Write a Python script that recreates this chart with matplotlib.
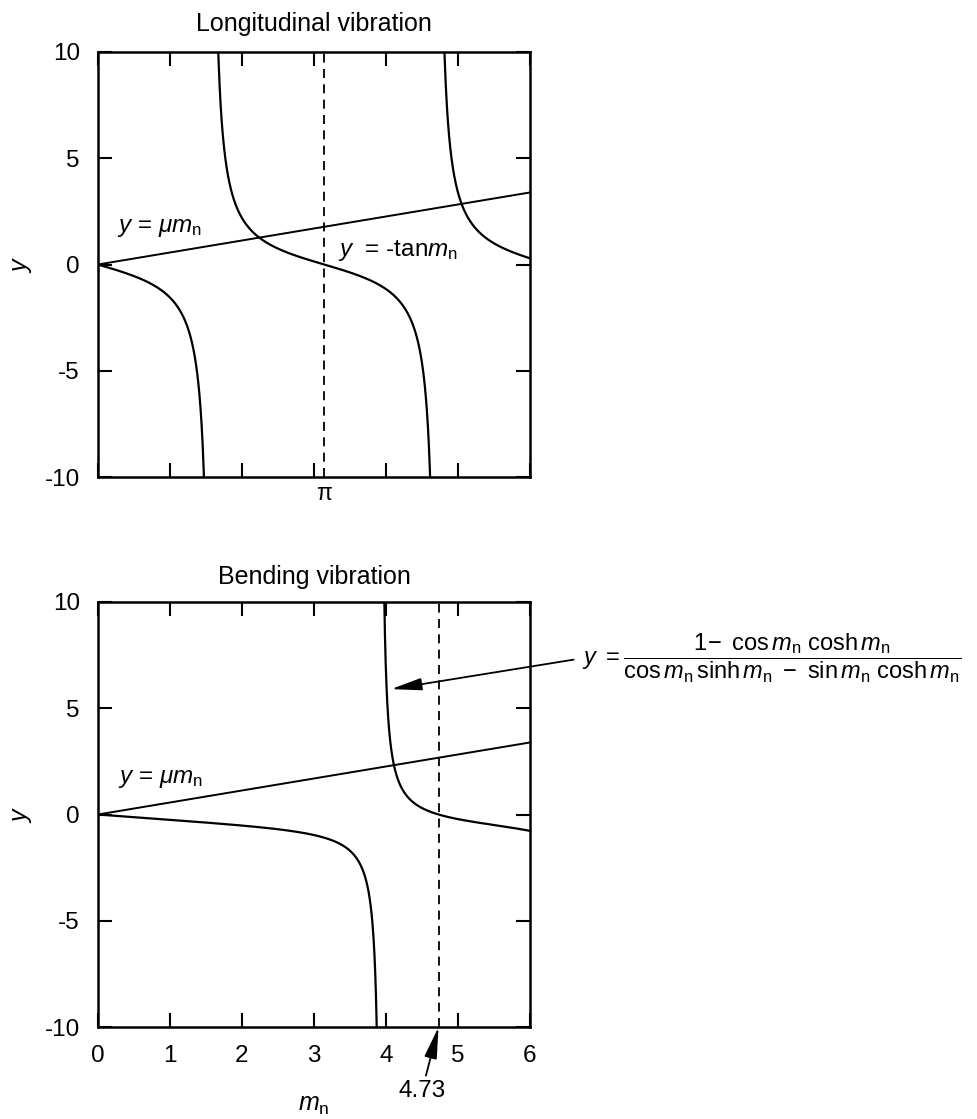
import numpy as np
import matplotlib
matplotlib.use("Agg")
import matplotlib.pyplot as plt
from matplotlib.transforms import blended_transform_factory

plt.rcParams['font.family'] = ['Liberation Sans', 'DejaVu Sans']
plt.rcParams['mathtext.fontset'] = 'custom'
plt.rcParams['mathtext.rm'] = 'Liberation Sans'
plt.rcParams['mathtext.it'] = 'Liberation Sans:italic'
plt.rcParams['mathtext.bf'] = 'Liberation Sans:bold'

# ---- data / parameters ----
x_ticks = [0, 1, 2, 3, 4, 5, 6]
y_ticks = [-10, -5, 0, 5, 10]
x_range = [0, 6]
y_range = [-10, 10]
mu_slope = 0.565            # slope of y = mu*m_n (y ~ 3.39 at m_n = 6)
long_root_marker = np.pi    # dashed line, top panel
bend_root_marker = 4.73     # dashed line, bottom panel
m_samples = np.linspace(0.0, 6.0, 6001)

# curves exactly as labelled in the chart
def long_curve(m):
    return -np.tan(m)

def bend_curve(m):
    with np.errstate(divide='ignore', invalid='ignore'):
        return (1 - np.cos(m) * np.cosh(m)) / (np.cos(m) * np.sinh(m) - np.sin(m) * np.cosh(m))

def break_poles(y, lim=12):
    y = np.array(y, dtype=float)
    bad = ~np.isfinite(y)
    jump = np.zeros_like(y, dtype=bool)
    jump[1:] = np.abs(np.diff(y)) > lim
    y[bad | jump] = np.nan
    return y

FS = 17.5
fig = plt.figure(figsize=(9.78, 11.19), dpi=100)
W, H = 978.0, 1119.0
ax_left, ax_right = 98, 530
top_t, top_b = 52, 477
bot_t, bot_b = 602, 1027
ax1 = fig.add_axes([ax_left / W, 1 - top_b / H, (ax_right - ax_left) / W, (top_b - top_t) / H])
ax2 = fig.add_axes([ax_left / W, 1 - bot_b / H, (ax_right - ax_left) / W, (bot_b - bot_t) / H])

lw = 1.4
for ax in (ax1, ax2):
    ax.set_xlim(*x_range)
    ax.set_ylim(*y_range)
    ax.set_xticks(x_ticks)
    ax.set_yticks(y_ticks)
    ax.set_yticklabels([str(v) for v in y_ticks], fontsize=FS)
    ax.tick_params(direction='in', length=10, width=1.5, top=True, right=True, pad=13)
    for s in ax.spines.values():
        s.set_linewidth(1.8)
    ax.set_ylabel(r'$y$', fontsize=FS + 0.5, labelpad=8)
    ax.plot(m_samples, mu_slope * m_samples, color='black', lw=lw)

# ---- top panel ----
ax1.set_xticklabels([])
ax1.plot(m_samples, break_poles(long_curve(m_samples)), color='black', lw=1.6)
ax1.axvline(long_root_marker, color='black', lw=1.3, ls=(0, (5, 3.5)))
tr1 = blended_transform_factory(ax1.transData, ax1.transAxes)
ax1.text(long_root_marker, -0.012, 'π', transform=tr1, ha='center', va='top', fontsize=FS - 1)
ax1.text(0.26, 1.7, r'$y$ = $\mu m_{\rm n}$', fontsize=FS, ha='left', va='center')
ax1.text(3.34, 0.68, r'$y$  = -tan$m_{\rm n}$', fontsize=FS, ha='left', va='center')
ax1.set_title('Longitudinal vibration', fontsize=FS + 0.5, pad=15)

# ---- bottom panel ----
ax2.set_xticklabels([str(v) for v in x_ticks], fontsize=FS)
ax2.plot(m_samples, break_poles(bend_curve(m_samples)), color='black', lw=1.6)
ax2.axvline(bend_root_marker, color='black', lw=1.3, ls=(0, (5, 3.5)))
ax2.text(0.28, 1.65, r'$y$ = $\mu m_{\rm n}$', fontsize=FS, ha='left', va='center')
ax2.set_title('Bending vibration', fontsize=FS + 0.5, pad=13)
ax2.set_xlabel(r'$m_{\rm n}$', fontsize=FS + 0.5, labelpad=19)

arrow_style = '-|>,head_length=1.1,head_width=0.22'
tr2 = blended_transform_factory(ax2.transData, ax2.transAxes)
ax2.annotate('4.73', xy=(bend_root_marker, -10), xycoords='data',
             xytext=(4.5, -0.15), textcoords=tr2,
             ha='center', va='center', fontsize=FS,
             arrowprops=dict(arrowstyle=arrow_style, color='black', lw=1.3,
                             shrinkA=1, shrinkB=0),
             annotation_clip=False)

formula = (r'$y\ =\dfrac{1\!-\ \mathrm{cos}\,m_{\rm n}\ \mathrm{cosh}\,m_{\rm n}}'
           r'{\mathrm{cos}\,m_{\rm n}\,\mathrm{sinh}\,m_{\rm n}\ -\ \mathrm{sin}\,m_{\rm n}\ \mathrm{cosh}\,m_{\rm n}}$')
ax2.annotate(formula, xy=(4.07, 5.9), xycoords='data',
             xytext=(6.72, 7.35), textcoords='data',
             ha='left', va='center', fontsize=FS - 0.5,
             arrowprops=dict(arrowstyle=arrow_style, color='black', lw=1.3,
                             shrinkA=4, shrinkB=0, relpos=(0, 0.5)),
             annotation_clip=False)

fig.savefig('out.png', dpi=100)
